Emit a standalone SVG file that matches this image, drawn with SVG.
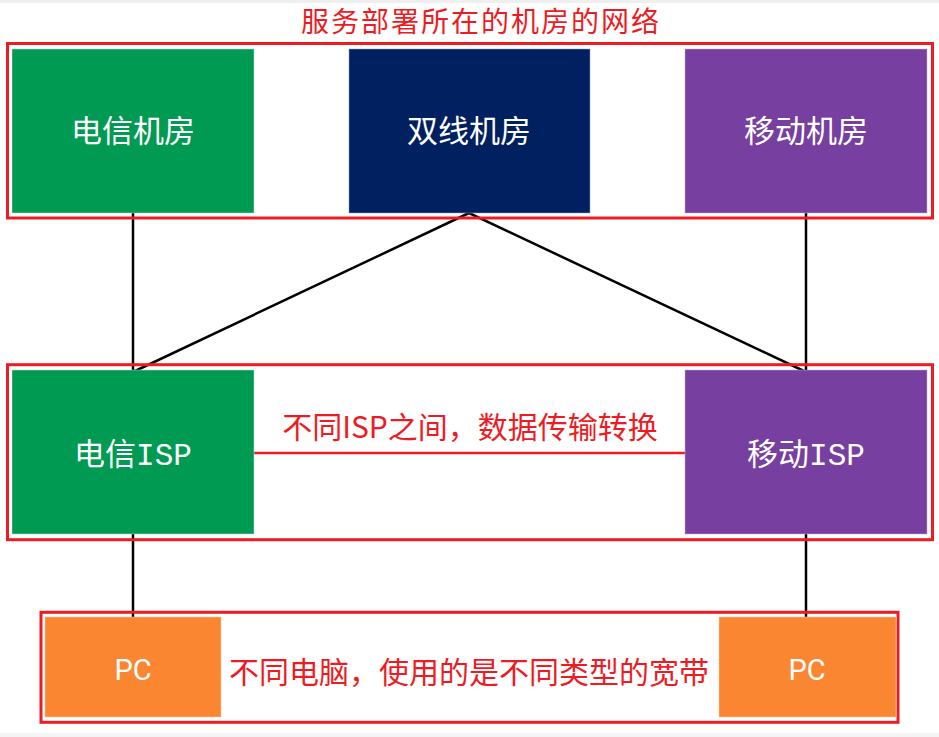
<svg xmlns="http://www.w3.org/2000/svg" width="939" height="737" viewBox="0 0 939 737">
  <style>
    .frame { fill: none; stroke: #ED1C24; stroke-width: 3; }
    .box { stroke-width: 1; stroke-opacity: 0.5; }
    .lbl { fill: #FFFFFF; font-family: "Noto Sans CJK SC", "Noto Sans", sans-serif; font-size: 31px; text-anchor: middle; }
    .mono { font-family: "Liberation Mono", "DejaVu Sans Mono", monospace; }
    .pc { fill: #FFFFFF; font-family: Roboto, "Liberation Sans", sans-serif; font-size: 29px; text-anchor: middle; }
    .note { fill: #ED1C24; font-family: "Noto Sans CJK SC", "Noto Sans", sans-serif; font-size: 30px; text-anchor: middle; }
    .title { font-size: 28px; letter-spacing: 2px; }
    .conn { stroke: #000000; stroke-width: 2.5; fill: none; }
  </style>
  <rect x="0" y="0" width="939" height="737" fill="#FFFFFF"/>
  <rect x="0" y="0" width="939" height="3" fill="#EFEFEF"/>
  <rect x="0" y="733" width="939" height="4" fill="#F4F4F4"/>

  <g id="connectors">
    <line class="conn" x1="133" y1="213" x2="133" y2="372"/>
    <line class="conn" x1="806" y1="213" x2="806" y2="372"/>
    <polyline class="conn" points="133,372 469,213 806,372"/>
    <line class="conn" x1="133" y1="534" x2="133" y2="618"/>
    <line class="conn" x1="806" y1="534" x2="806" y2="618"/>
    <line x1="254" y1="453" x2="685" y2="453" stroke="#ED1C24" stroke-width="2.5"/>
  </g>

  <g id="frame-top">
    <rect class="frame" x="7.5" y="43.5" width="925" height="174.5"/>
    <text class="note title" x="481" y="32">服务部署所在的机房的网络</text>
  </g>
  <g id="frame-mid">
    <rect class="frame" x="7.5" y="364.7" width="925" height="175"/>
    <text class="note" x="470" y="438">不同ISP之间，数据传输转换</text>
  </g>
  <g id="frame-bottom">
    <rect class="frame" x="41" y="612.3" width="857" height="110"/>
    <text class="note" x="469" y="683">不同电脑，使用的是不同类型的宽带</text>
  </g>

  <g id="dx-room">
    <rect class="box" x="12" y="49" width="242" height="164" fill="#009A52" stroke="#BFE3CD"/>
    <text class="lbl" x="133" y="142">电信机房</text>
  </g>
  <g id="dual-room">
    <rect class="box" x="349" y="49" width="241" height="164" fill="#002060" stroke="#8FA3C8"/>
    <text class="lbl" x="469" y="142">双线机房</text>
  </g>
  <g id="yd-room">
    <rect class="box" x="685" y="49" width="242" height="164" fill="#763FA0" stroke="#C9B2DC"/>
    <text class="lbl" x="806" y="142">移动机房</text>
  </g>

  <g id="dx-isp">
    <rect class="box" x="12" y="370" width="242" height="164" fill="#009A52" stroke="#BFE3CD"/>
    <text class="lbl" x="133" y="465">电信<tspan class="mono">ISP</tspan></text>
  </g>
  <g id="yd-isp">
    <rect class="box" x="685" y="370" width="242" height="164" fill="#763FA0" stroke="#C9B2DC"/>
    <text class="lbl" x="806" y="465">移动<tspan class="mono">ISP</tspan></text>
  </g>

  <g id="pc-left">
    <rect class="box" x="45" y="617" width="176" height="100" fill="#FA8632" stroke="#FDD2B0"/>
    <text class="pc" x="133" y="680">PC</text>
  </g>
  <g id="pc-right">
    <rect class="box" x="719" y="617" width="177" height="100" fill="#FA8632" stroke="#FDD2B0"/>
    <text class="pc" x="807" y="680">PC</text>
  </g>
</svg>
